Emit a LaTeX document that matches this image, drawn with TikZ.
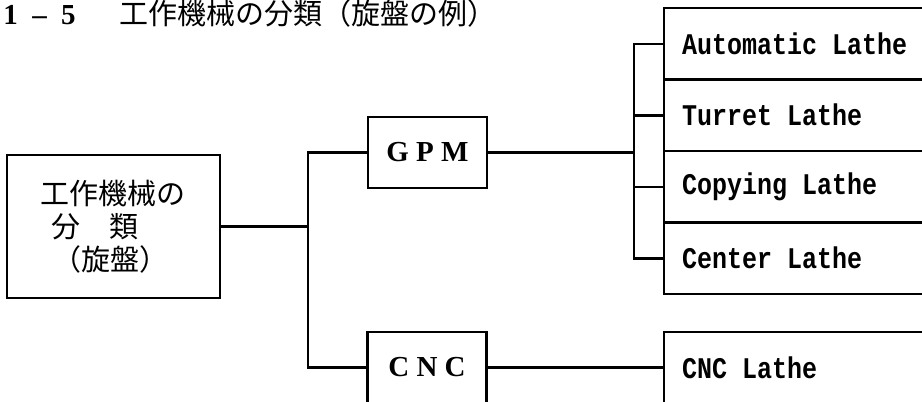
\documentclass[tikz,border=0pt]{standalone}
\usepackage{fontspec}
\usepackage{graphicx}
\newfontfamily\cjk{Noto Sans CJK JP}
\newfontfamily\serifL{Liberation Serif}
\newfontfamily\monoL{Liberation Mono}
\newcommand\msp{\hspace*{0.6em}}
\newcommand\lt[1]{\scalebox{1}[1.2]{#1}}
\begin{document}
\begin{tikzpicture}[x=1pt,y=-1pt,line width=2.5pt,line join=miter,
  mainbox/.style={draw, minimum width=213pt, minimum height=143pt, align=left,
    inner sep=0pt, font=\cjk\fontsize{29}{33}\selectfont},
  midbox/.style={draw, minimum width=119pt, minimum height=71pt, inner sep=0pt,
    font=\serifL\bfseries\fontsize{29}{29}\selectfont},
  lathebox/.style={draw, minimum height=71.5pt, text width=240pt, inner xsep=18pt,
    inner ysep=0pt, align=left, font=\monoL\bfseries\fontsize{25}{25}\selectfont},
  conn/.style={draw, line width=2.5pt}]
\useasboundingbox (0,0) rectangle (922,402);
\clip (0,0) rectangle (922,402);
\fill[white] (0,0) rectangle (922,402);

% title
\node[anchor=base west, inner sep=0pt, font=\fontsize{29}{29}\selectfont] (title) at (2,24)
  {{\serifL\bfseries\makebox[29pt][l]{1}\makebox[29pt][l]{–}\makebox[58pt][l]{5}}\cjk 工作機械の分類（旋盤の例）};

% boxes
\node[mainbox] (main) at (113.5,226.5) {工作機械の\\\hspace*{10pt}分　類\\\hspace*{12pt}（旋盤）};
\node[midbox] (gpm) at (427.5,152.5) {G P M};
\node[midbox] (cnc) at (427,367.5) {C N C};

\node[lathebox] (a1) at (802,43.75) {\lt{Automatic\msp Lathe}};
\node[lathebox] (a2) at (802,115.25) {\lt{Turret\msp Lathe}};
\node[lathebox] (a3) at (802,186.75) {\lt{Copying\msp Lathe}};
\node[lathebox] (a4) at (802,258.25) {\lt{Center\msp Lathe}};
\node[lathebox] (cl) at (802,367.5) {\lt{CNC\msp Lathe}};

% junctions
\coordinate (j1) at (308,226.5);
\coordinate (j2) at (634,152.5);

% connectors
\draw[conn] (main.east) -- (j1);
\draw[conn] (gpm.west) -| (j1) |- (cnc.west);
\draw[conn] (gpm.east) -- (j2);
\draw[conn] (a1.west) -| (j2) |- (a4.west);
\draw[conn] (j2 |- a2.west) -- (a2.west);
\draw[conn] (j2 |- a3.west) -- (a3.west);
\draw[conn] (cnc.east) -- (cl.west);
\end{tikzpicture}
\end{document}
